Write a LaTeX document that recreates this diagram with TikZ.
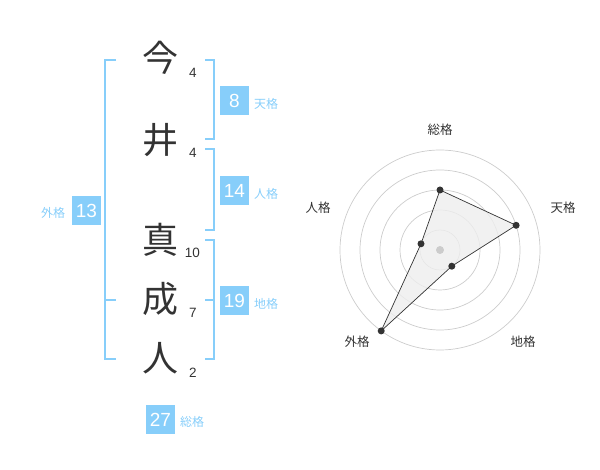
\documentclass[tikz,border=0pt]{standalone}
\usepackage{fontspec}
\setmainfont{Liberation Sans}
\newfontfamily\jp{Noto Sans CJK JP}
\definecolor{sky}{RGB}{135,206,250}
\definecolor{ink}{RGB}{51,51,51}
\definecolor{ring}{RGB}{204,204,204}
\definecolor{area}{RGB}{238,238,238}
\tikzset{
  kanji/.style={text=ink,font=\jp\fontsize{36}{36}\selectfont,inner sep=0pt},
  stroke/.style={text=ink,font=\fontsize{13.5}{14}\selectfont,inner sep=0pt},
  valbox/.style={fill=sky,text=white,minimum size=29pt,inner sep=0pt,font=\fontsize{19}{19}\selectfont},
  vallabel/.style={text=sky,font=\jp\fontsize{12}{12}\selectfont,inner sep=0pt},
  bracket/.style={draw=sky,line width=2pt},
  radlabel/.style={text=ink,font=\jp\fontsize{12.5}{13}\selectfont,inner sep=0pt},
  dot/.style={circle,fill=ink,inner sep=0pt,minimum size=7pt},
}
\begin{document}
\begin{tikzpicture}[x=1pt,y=-1pt]
\useasboundingbox (0,0) rectangle (600,470);
% kanji
\node[kanji] (k1) at (160,58) {今};
\node[kanji] (k2) at (160,140) {井};
\node[kanji] (k3) at (160,240) {真};
\node[kanji] (k4) at (160,299) {成};
\node[kanji] (k5) at (160,358) {人};
\node[stroke] (s1) at (193,73) {4};
\node[stroke] (s2) at (193,153) {4};
\node[stroke] (s3) at (192.5,253) {10};
\node[stroke] (s4) at (193,313) {7};
\node[stroke] (s5) at (193,373) {2};
% brackets
\draw[bracket] (116,60) -- (105,60) -- (105,359) -- (116,359);
\draw[bracket] (105,300) -- (116,300);
\draw[bracket] (205,60) -- (214,60) -- (214,139) -- (205,139);
\draw[bracket] (205,149) -- (214,149) -- (214,230) -- (205,230);
\draw[bracket] (205,240) -- (214,240) -- (214,359) -- (205,359);
\draw[bracket] (205,300) -- (214,300);
% boxes
\node[valbox] (b1) at (234.5,100.5) {8};
\node[vallabel] (l1) at (266,104) {天格};
\node[valbox] (b2) at (234.5,190.5) {14};
\node[vallabel] (l2) at (266,194) {人格};
\node[valbox] (b3) at (234.5,300.5) {19};
\node[vallabel] (l3) at (266,304) {地格};
\node[valbox] (b4) at (86.5,210.5) {13};
\node[vallabel] (l4) at (53,213) {外格};
\node[valbox] (b5) at (160.5,419.5) {27};
\node[vallabel] (l5) at (192,422) {総格};
% radar
\coordinate (c) at (440,250);
\foreach \r in {20,40,60,80,100} \draw[ring,line width=0.7pt] (c) circle[radius=\r];
\coordinate (p1) at (440,190);
\coordinate (p2) at (516.1,225.3);
\coordinate (p3) at (451.8,266.2);
\coordinate (p4) at (381.2,330.9);
\coordinate (p5) at (421,243.8);
\fill[area,opacity=0.8] (p1) -- (p2) -- (p3) -- (p4) -- (p5) -- cycle;
\draw[ink,line width=0.7pt] (p1) -- (p2) -- (p3) -- (p4) -- (p5) -- cycle;
\fill[ring] (c) circle[radius=4];
\foreach \p in {p1,p2,p3,p4,p5} \node[dot] at (\p) {};
\node[radlabel] (r1) at (440,130) {総格};
\node[radlabel] (r2) at (563,208) {天格};
\node[radlabel] (r3) at (523,342) {地格};
\node[radlabel] (r4) at (357,342) {外格};
\node[radlabel] (r5) at (318,208) {人格};
\end{tikzpicture}
\end{document}
